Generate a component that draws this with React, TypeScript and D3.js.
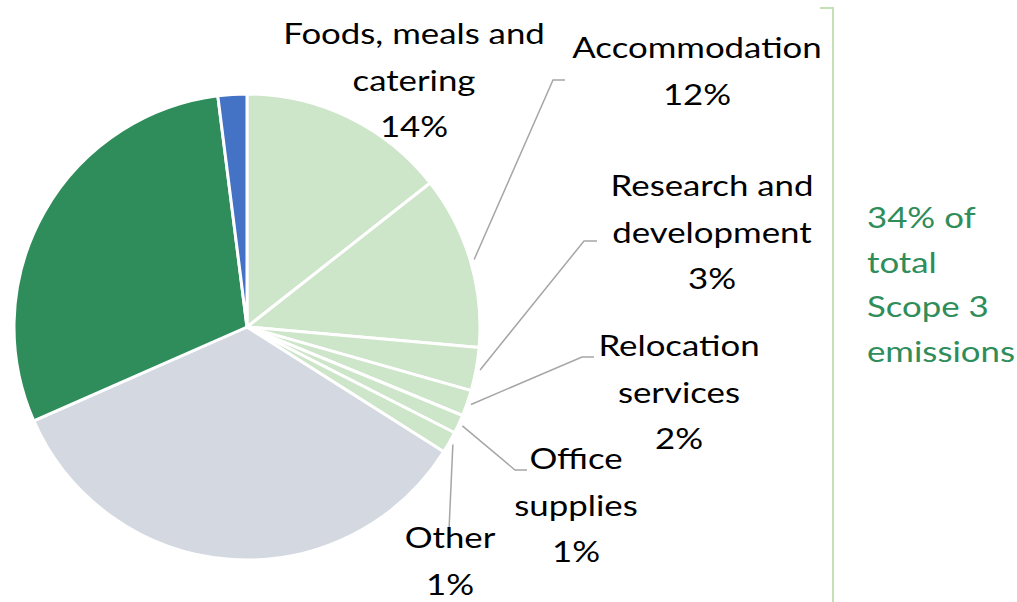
import React from "react";
import * as d3 from "d3";

const categories = [
  "Foods, meals and catering",
  "Accommodation",
  "Research and development",
  "Relocation services",
  "Office supplies",
  "Other",
  "Remaining A",
  "Remaining B",
  "Remaining C",
];
const values = [14.4, 12.0, 3.0, 1.8, 1.3, 1.5, 34.4, 29.6, 2.0];
const percentLabels = ["14%", "12%", "3%", "2%", "1%", "1%", "", "", ""];
const labelLines = [
  ["Foods, meals and", "catering"],
  ["Accommodation"],
  ["Research and", "development"],
  ["Relocation", "services"],
  ["Office", "supplies"],
  ["Other"],
];
const bracketText = ["34% of", "total", "Scope 3", "emissions"];

const W = 1017;
const H = 602;
const CX = 247;
const CY = 327;
const R = 233;
const FONT = "Lato, Carlito, 'Liberation Sans', sans-serif";
const FS = 29;
const SX = 1.2;
const LH = 46.5;

const colors = [
  "#CDE5C8", "#CDE5C8", "#CDE5C8", "#CDE5C8", "#CDE5C8", "#CDE5C8",
  "#D4D9E1", "#2E8D5A", "#4472C4",
];

// label layout: center x and first baseline y; leader elbow/end
const labelLayout = [
  { x: 414, y: 44, leader: null as null | number[][] },
  { x: 697, y: 58, leader: [[553, 80], [565, 80]] },
  { x: 712, y: 196, leader: [[584, 241], [597, 241]] },
  { x: 679, y: 356, leader: [[582, 357], [594, 357]] },
  { x: 576, y: 469, leader: [[515, 470], [527, 470]] },
  { x: 450, y: 548, leader: [[449, 530]] },
];

export default function App() {
  const pie = d3.pie<number>().sort(null).value((d) => d);
  const arcs = pie(values);
  const arcGen = d3.arc<d3.PieArcDatum<number>>().innerRadius(0).outerRadius(R);

  return (
    <svg
      width={W}
      height={H}
      style={{ position: "absolute", left: 0, top: 0, background: "#fff" }}
      fontFamily={FONT}
    >
      <g transform={`translate(${CX},${CY})`}>
        {arcs.map((a, i) => (
          <path key={i} d={arcGen(a) || ""} fill={colors[i]} stroke="#fff" strokeWidth={3} strokeLinejoin="round" />
        ))}
      </g>
      {labelLayout.map((l, i) => {
        if (!l.leader) return null;
        const a = arcs[i];
        const mid = (a.startAngle + a.endAngle) / 2;
        const sx = CX + (R + 4) * Math.sin(mid);
        const sy = CY - (R + 4) * Math.cos(mid);
        const pts = [[sx, sy], ...l.leader];
        const d = d3.line()(pts as [number, number][]) || "";
        return <path key={"ld" + i} d={d} fill="none" stroke="#A6A6A6" strokeWidth={1.5} />;
      })}
      {labelLayout.map((l, i) => {
        const lines = [...labelLines[i], percentLabels[i]];
        return (
          <g key={"lb" + i}>
            {lines.map((t, j) => (
              <text
                key={j}
                transform={`translate(${l.x},${l.y + j * LH}) scale(${SX},1)`}
                textAnchor="middle"
                fontSize={FS}
                fill="#000"
              >
                {t}
              </text>
            ))}
          </g>
        );
      })}
      <path d="M820,8 L833,8 L833,602" fill="none" stroke="#C5E0B4" strokeWidth={2} />
      <g>
        {bracketText.map((t, j) => (
          <text
            key={j}
            transform={`translate(867,${228 + j * 44.7}) scale(${SX},1)`}
            fontSize={FS}
            fill="#2E8D5A"
          >
            {t}
          </text>
        ))}
      </g>
    </svg>
  );
}
